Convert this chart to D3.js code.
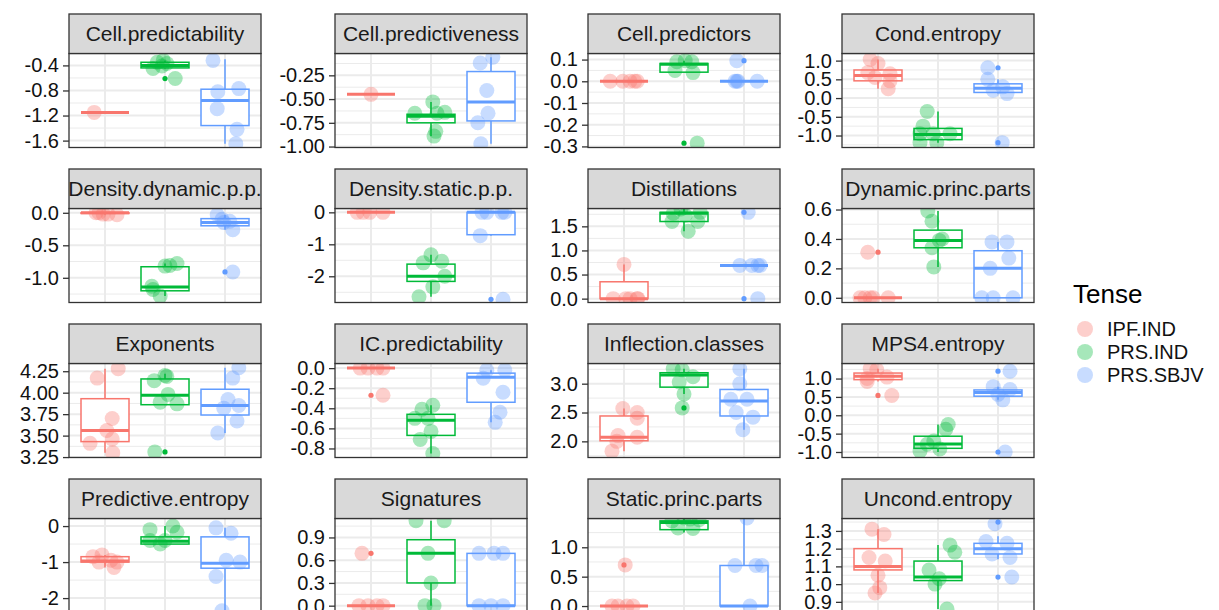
<!DOCTYPE html>
<html>
<head>
<meta charset="utf-8">
<script src="https://cdn.jsdelivr.net/npm/d3@7"></script>
<style>
  body { margin: 0; background: #fff; }
  svg { display: block; font-family: "Liberation Sans", Arial, Helvetica, sans-serif; }
</style>
</head>
<body>
<svg width="1219" height="610"></svg>
<script>
// facets, in reading order
var facets = ["Cell.predictability", "Cell.predictiveness", "Cell.predictors", "Cond.entropy",
  "Density.dynamic.p.p.", "Density.static.p.p.", "Distillations", "Dynamic.princ.parts",
  "Exponents", "IC.predictability", "Inflection.classes", "MPS4.entropy",
  "Predictive.entropy", "Signatures", "Static.princ.parts", "Uncond.entropy"];

var tenses = ["IPF.IND", "PRS.IND", "PRS.SBJV"];
var colours = ["#F8766D", "#00BA38", "#619CFF"];

// free y range of each facet
var yDomains = [[-1.71, -0.21], [-1.01, -0.02], [-0.305, 0.128], [-1.32, 1.19],
  [-1.38, 0.066], [-2.82, 0.12], [-0.08, 1.87], [-0.032, 0.607],
  [3.245, 4.34], [-0.89, 0.046], [1.72, 3.35], [-1.15, 1.41],
  [-2.4, 0.21], [-0.09, 1.15], [-0.11, 1.49], [0.84, 1.37]];

// tick labels of each facet
var tickLabels = [["-1.6", "-1.2", "-0.8", "-0.4"], ["-1.00", "-0.75", "-0.50", "-0.25"],
  ["-0.3", "-0.2", "-0.1", "0.0", "0.1"], ["-1.0", "-0.5", "0.0", "0.5", "1.0"],
  ["-1.0", "-0.5", "0.0"], ["-2", "-1", "0"], ["0.0", "0.5", "1.0", "1.5"], ["0.0", "0.2", "0.4", "0.6"],
  ["3.25", "3.50", "3.75", "4.00", "4.25"], ["-0.8", "-0.6", "-0.4", "-0.2", "0.0"], ["2.0", "2.5", "3.0"], ["-1.0", "-0.5", "0.0", "0.5", "1.0"],
  ["-2", "-1", "0"], ["0.0", "0.3", "0.6", "0.9"], ["0.0", "0.5", "1.0"], ["0.9", "1.0", "1.1", "1.2", "1.3"]];

// box statistics per facet and tense: [lower whisker, q1, median, q3, upper whisker]
var boxStats = [
  [[-1.15, -1.15, -1.15, -1.15, -1.15], [-0.45, -0.44, -0.40, -0.35, -0.32], [-1.65, -1.36, -0.96, -0.78, -0.30]],
  [[-0.45, -0.45, -0.45, -0.45, -0.45], [-0.89, -0.75, -0.68, -0.66, -0.53], [-0.97, -0.73, -0.53, -0.21, -0.06]],
  [[0, 0, 0, 0, 0], [0.04, 0.042, 0.078, 0.082, 0.095], [0, 0, 0, 0, 0]],
  [[0.25, 0.46, 0.6, 0.75, 1.03], [-1.19, -1.11, -0.97, -0.81, -0.36], [0.12, 0.15, 0.26, 0.38, 0.5]],
  [[-0.03, -0.01, 0, 0, 0], [-1.28, -1.2, -1.14, -0.83, -0.78], [-0.26, -0.2, -0.15, -0.09, -0.03]],
  [[0, 0, 0, 0, 0], [-2.64, -2.16, -2.0, -1.62, -1.33], [-0.73, -0.7, 0, 0, 0]],
  [[0, 0, 0, 0.35, 0.71], [1.4, 1.6, 1.77, 1.79, 1.87], [0.69, 0.69, 0.69, 0.69, 0.69]],
  [[0, 0, 0, 0, 0], [0.21, 0.34, 0.39, 0.46, 0.59], [0, 0, 0.2, 0.32, 0.38]],
  [[3.3, 3.43, 3.56, 3.93, 4.28], [3.86, 3.86, 3.97, 4.16, 4.22], [3.53, 3.74, 3.85, 4.04, 4.29]],
  [[0, 0, 0, 0, 0], [-0.85, -0.67, -0.52, -0.46, -0.37], [-0.54, -0.34, -0.09, -0.05, -0.02]],
  [[1.83, 2.01, 2.07, 2.44, 2.57], [2.82, 2.94, 3.15, 3.19, 3.26], [2.2, 2.44, 2.7, 2.9, 3.26]],
  [[0.92, 0.97, 1.06, 1.15, 1.27], [-1.0, -0.9, -0.78, -0.57, -0.25], [0.42, 0.52, 0.62, 0.69, 0.78]],
  [[-1.15, -1.0, -0.97, -0.85, -0.8], [-0.5, -0.5, -0.42, -0.3, 0], [-2.35, -1.17, -1.03, -0.3, -0.05]],
  [[0, 0, 0, 0, 0], [0, 0.3, 0.69, 0.87, 1.12], [0, 0, 0, 0.69, 0.69]],
  [[0, 0, 0, 0, 0], [1.25, 1.3, 1.42, 1.45, 1.5], [0, 0, 0, 0.69, 1.5]],
  [[0.95, 1.08, 1.1, 1.2, 1.31], [0.86, 1.02, 1.04, 1.13, 1.22], [1.14, 1.17, 1.2, 1.23, 1.27]]
];

// jittered observations per facet and tense: [horizontal jitter, value]
var points = [
  [[[-0.18, -1.15]],
   [[-0.2, -0.45], [-0.13, -0.35], [-0.03, -0.32], [0.03, -0.37], [0.17, -0.61], [-0.05, -0.41]],
   [[-0.2, -0.32], [-0.12, -0.82], [0.23, -0.77], [-0.13, -1.09], [0.2, -1.42], [0.18, -1.65]]],
  [[[0, -0.45]],
   [[-0.27, -0.65], [0.03, -0.53], [0.1, -0.65], [0.23, -0.64], [0.08, -0.84], [0.05, -0.89]],
   [[-0.18, -0.12], [0.03, -0.06], [-0.07, -0.41], [-0.05, -0.65], [-0.22, -0.75], [-0.17, -0.97]]],
  [[[-0.23, 0], [-0.02, 0], [0.1, 0], [0.18, 0], [0.22, 0]],
   [[-0.12, 0.09], [0.02, 0.095], [0.13, 0.09], [-0.15, 0.05], [0.15, 0.04], [0.22, -0.285]],
   [[-0.15, 0], [-0.12, 0], [-0.1, 0], [0.22, 0], [-0.12, 0.095]]],
  [[[-0.13, 1.03], [0, 0.92], [-0.17, 0.68], [-0.05, 0.55], [0.2, 0.65], [0.2, 0.46], [0.17, 0.25]],
   [[-0.18, -0.36], [-0.25, -0.75], [-0.3, -0.95], [-0.08, -0.95], [0.2, -0.95], [-0.3, -1.19], [-0.02, -1.19]],
   [[-0.17, 0.81], [-0.17, 0.5], [-0.08, 0.21], [0.08, 0.3], [0.15, 0.12], [0.07, -1.19]]],
  [[[-0.1, 0], [-0.03, -0.02], [0.2, -0.03], [-0.15, 0], [0.05, -0.02]],
   [[-0.22, -1.13], [-0.2, -1.18], [-0.08, -1.28], [0, -0.82], [0.08, -0.81], [0.2, -0.78]],
   [[-0.13, -0.03], [-0.05, -0.1], [0.08, -0.13], [0.13, -0.26], [-0.02, -0.15], [0.13, -0.91]]],
  [[[-0.23, 0], [-0.13, 0], [-0.02, 0], [0.2, 0]],
   [[-0.2, -2.64], [-0.13, -1.58], [0, -1.33], [0.18, -1.53], [0.23, -2.0], [0.03, -2.33]],
   [[-0.15, 0], [-0.07, 0], [0.18, 0], [0.23, 0], [-0.18, -0.73], [0.2, -2.72]]],
  [[[0, 0.71], [-0.18, 0], [0.03, 0], [0.1, 0], [0.22, 0], [0.23, 0]],
   [[-0.2, 1.6], [0.07, 1.4], [0.23, 1.6], [-0.18, 1.77], [0.27, 1.79], [0.02, 1.73], [-0.05, 1.86]],
   [[-0.07, 0.69], [0.13, 0.69], [0.23, 0.69], [0.27, 0.69], [0.07, 1.79], [0.23, 0]]],
  [[[-0.3, 0], [-0.22, 0], [-0.13, 0], [-0.08, 0], [0.17, 0], [-0.17, 0.31]],
   [[-0.17, 0.59], [-0.1, 0.52], [-0.1, 0.34], [0.07, 0.4], [0.02, 0.39], [-0.07, 0.21]],
   [[-0.1, 0.38], [0.15, 0.38], [0.18, 0.27], [-0.13, 0.2], [-0.27, 0], [-0.08, 0], [0.25, 0]]],
  [[[-0.13, 4.17], [0.22, 4.28], [0.12, 3.7], [0.03, 3.56], [0.12, 3.46], [-0.25, 3.41], [0.13, 3.3]],
   [[-0.18, 4.14], [0, 4.2], [0.03, 4.19], [0.05, 3.98], [-0.08, 3.89], [0.2, 3.87], [-0.17, 3.31]],
   [[0.23, 4.29], [0.13, 4.17], [0.05, 3.92], [-0.02, 3.82], [0.23, 3.85], [0.2, 3.67], [-0.12, 3.53]]],
  [[[-0.18, 0], [-0.05, 0], [0.1, 0], [0.2, 0], [0.2, -0.27]],
   [[0.03, -0.37], [-0.15, -0.41], [-0.27, -0.5], [-0.05, -0.5], [0, -0.63], [-0.18, -0.71], [0.03, -0.85]],
   [[-0.13, -0.1], [-0.07, -0.02], [0.23, -0.02], [0.2, -0.24], [0.15, -0.44], [0.07, -0.54]]],
  [[[-0.02, 2.57], [0.22, 2.5], [0.22, 2.4], [-0.1, 2.1], [-0.12, 2.0], [0.22, 2.07], [-0.2, 1.83]],
   [[-0.18, 3.26], [-0.03, 3.24], [0.15, 3.12], [-0.08, 3.03], [0, 2.82], [-0.03, 2.58]],
   [[-0.07, 3.26], [-0.07, 3.0], [-0.22, 2.73], [0.05, 2.73], [-0.13, 2.5], [0.15, 2.42], [-0.02, 2.2]]],
  [[[-0.13, 1.27], [-0.02, 1.24], [-0.18, 1.0], [-0.18, 0.92], [0.15, 1.04], [0.23, 0.54]],
   [[0.17, -0.25], [0.13, -0.38], [-0.07, -0.7], [-0.18, -0.79], [0.03, -0.92], [-0.3, -0.97]],
   [[0.2, 1.2], [-0.08, 0.78], [0, 0.57], [0.08, 0.42], [0.2, 0.7], [0.12, -1.0]]],
  [[[-0.2, -0.85], [-0.05, -0.8], [0.1, -0.95], [0.2, -1.0], [0.15, -1.15], [-0.1, -1.0]],
   [[-0.25, -0.1], [0.13, 0], [-0.25, -0.4], [0, -0.4], [0.2, -0.17], [-0.08, -0.5]],
   [[-0.15, -0.05], [0.1, -0.2], [0.02, -0.95], [0.25, -1.0], [-0.15, -1.4], [-0.05, -2.35]]],
  [[[-0.2, 0], [-0.05, 0], [0.1, 0], [0.2, 0], [-0.15, 0.69]],
   [[-0.25, 1.12], [0.22, 1.12], [-0.05, 0.69], [0, 0.3], [0.05, 0], [-0.1, 0]],
   [[-0.2, 0.69], [0.2, 0.69], [0.05, 0.69], [-0.2, 0], [0.2, 0], [0, 0]]],
  [[[-0.2, 0], [-0.1, 0], [0.05, 0], [0.15, 0], [0.02, 0.7]],
   [[-0.2, 1.45], [0.1, 1.48], [0.25, 1.47], [-0.1, 1.33], [0.15, 1.32], [0, 1.5]],
   [[-0.15, 0.69], [0.2, 0.69], [0.3, 0.69], [0.1, 0], [0.05, 1.5]]],
  [[[-0.1, 1.31], [0.1, 1.28], [-0.15, 1.15], [0.12, 1.13], [0, 1.05], [0.03, 0.98], [-0.05, 0.95]],
   [[0.2, 1.22], [0.28, 1.18], [-0.15, 1.08], [0.02, 1.03], [-0.05, 1.0], [0.15, 0.86]],
   [[-0.05, 1.34], [-0.2, 1.24], [0.15, 1.23], [-0.1, 1.17], [0.2, 1.15], [0.23, 1.04]]]
];

// boxplot outliers per facet and tense
var outliers = [
  [[], [-0.61], []], [[], [], []], [[], [-0.285], [0.095]], [[], [], [0.81, -1.19]],
  [[], [], [-0.91]], [[], [], [-2.72]], [[], [], [1.79, 0]], [[0.31], [], []],
  [[], [3.31], []], [[-0.27], [], []], [[], [2.58], []], [[0.54], [], [1.2, -1.0]],
  [[], [], []], [[0.69], [], []], [[0.7], [], []], [[], [], [1.35, 1.04]]
];

var svg = d3.select("svg");

// layout
var colLeft = [69, 335, 588, 842],
    rowTop = 14, rowStep = 155,
    stripH = 39.5, panelW = 192, panelH = 94;

var x = d3.scaleLinear().domain([0.4, 3.6]).range([0, panelW]);

facets.forEach(function(name, i) {
  var col = i % 4, row = Math.floor(i / 4);
  var left = colLeft[col], stripTop = rowTop + row * rowStep, top = stripTop + stripH;
  var y = d3.scaleLinear().domain(yDomains[i]).range([panelH, 0]);
  var ticks = tickLabels[i].map(Number);

  var g = svg.append("g").attr("transform", "translate(" + left + "," + top + ")");

  g.append("clipPath").attr("id", "clip" + i)
    .append("rect").attr("width", panelW).attr("height", panelH);

  // minor grid half way between major ticks
  var step = ticks[1] - ticks[0], minor = [];
  for (var v = ticks[0] - step / 2; v <= yDomains[i][1]; v += step) {
    if (v >= yDomains[i][0]) minor.push(v);
  }
  g.selectAll(".minor").data(minor).enter().append("line")
    .attr("x1", 0).attr("x2", panelW)
    .attr("y1", function(d) { return y(d); }).attr("y2", function(d) { return y(d); })
    .style("stroke", "#EBEBEB").style("stroke-width", 1);
  g.selectAll(".major").data(ticks).enter().append("line")
    .attr("x1", 0).attr("x2", panelW)
    .attr("y1", function(d) { return y(d); }).attr("y2", function(d) { return y(d); })
    .style("stroke", "#EBEBEB").style("stroke-width", 2);
  g.selectAll(".vmajor").data([1, 2, 3]).enter().append("line")
    .attr("x1", function(d) { return x(d); }).attr("x2", function(d) { return x(d); })
    .attr("y1", 0).attr("y2", panelH)
    .style("stroke", "#EBEBEB").style("stroke-width", 2);

  var body = g.append("g").attr("clip-path", "url(#clip" + i + ")");

  tenses.forEach(function(t, k) {
    var s = boxStats[i][k], cx = k + 1, col = colours[k];
    // whiskers
    body.append("line").attr("x1", x(cx)).attr("x2", x(cx))
      .attr("y1", y(s[3])).attr("y2", y(s[4]))
      .style("stroke", col).style("stroke-width", 1.5);
    body.append("line").attr("x1", x(cx)).attr("x2", x(cx))
      .attr("y1", y(s[1])).attr("y2", y(s[0]))
      .style("stroke", col).style("stroke-width", 1.5);
    // box
    body.append("rect")
      .attr("x", x(cx - 0.4)).attr("width", x(cx + 0.4) - x(cx - 0.4))
      .attr("y", y(s[3])).attr("height", y(s[1]) - y(s[3]))
      .style("fill", "white").style("stroke", col).style("stroke-width", 1.5);
    // median
    body.append("line").attr("x1", x(cx - 0.4)).attr("x2", x(cx + 0.4))
      .attr("y1", y(s[2])).attr("y2", y(s[2]))
      .style("stroke", col).style("stroke-width", 3);
    // outliers
    body.selectAll(null).data(outliers[i][k]).enter().append("circle")
      .attr("cx", x(cx)).attr("cy", function(d) { return y(d); })
      .attr("r", 2.6).style("fill", col);
  });

  // jittered points on top
  tenses.forEach(function(t, k) {
    body.selectAll(null).data(points[i][k]).enter().append("circle")
      .attr("cx", function(d) { return x(k + 1 + d[0]); })
      .attr("cy", function(d) { return y(d[1]); })
      .attr("r", 7.5)
      .style("fill", colours[k]).style("opacity", 0.35);
  });

  // panel border
  g.append("rect").attr("width", panelW).attr("height", panelH)
    .style("fill", "none").style("stroke", "#333").style("stroke-width", 1.3);

  // y axis
  var axis = g.append("g")
    .call(d3.axisLeft(y).tickValues(ticks)
      .tickFormat(function(d, j) { return tickLabels[i][j]; })
      .tickSize(6).tickPadding(4));
  axis.select(".domain").remove();
  axis.selectAll(".tick line").style("stroke", "#333").style("stroke-width", 1.3);
  axis.selectAll(".tick text").style("font-size", "20px").style("fill", "#111")
    .style("font-family", "Liberation Sans, Arial, Helvetica, sans-serif");

  // strip
  var strip = svg.append("g").attr("transform", "translate(" + left + "," + stripTop + ")");
  strip.append("clipPath").attr("id", "sclip" + i)
    .append("rect").attr("width", panelW).attr("height", stripH);
  strip.append("rect").attr("width", panelW).attr("height", stripH)
    .style("fill", "#D9D9D9").style("stroke", "#333").style("stroke-width", 1.3);
  strip.append("text").attr("clip-path", "url(#sclip" + i + ")")
    .attr("x", panelW / 2).attr("y", 27)
    .attr("text-anchor", "middle")
    .style("font-size", "21px").style("fill", "#1A1A1A")
    .text(name);
});

// legend
var legend = svg.append("g").attr("transform", "translate(1073,0)");
legend.append("text").attr("x", 0).attr("y", 303)
  .style("font-size", "26px").style("fill", "#000").text("Tense");
tenses.forEach(function(t, k) {
  legend.append("circle").attr("cx", 12).attr("cy", 329 + k * 23).attr("r", 8)
    .style("fill", colours[k]).style("opacity", 0.35);
  legend.append("text").attr("x", 34).attr("y", 336 + k * 23)
    .style("font-size", "20px").style("fill", "#111").text(t);
});
</script>
</body>
</html>
